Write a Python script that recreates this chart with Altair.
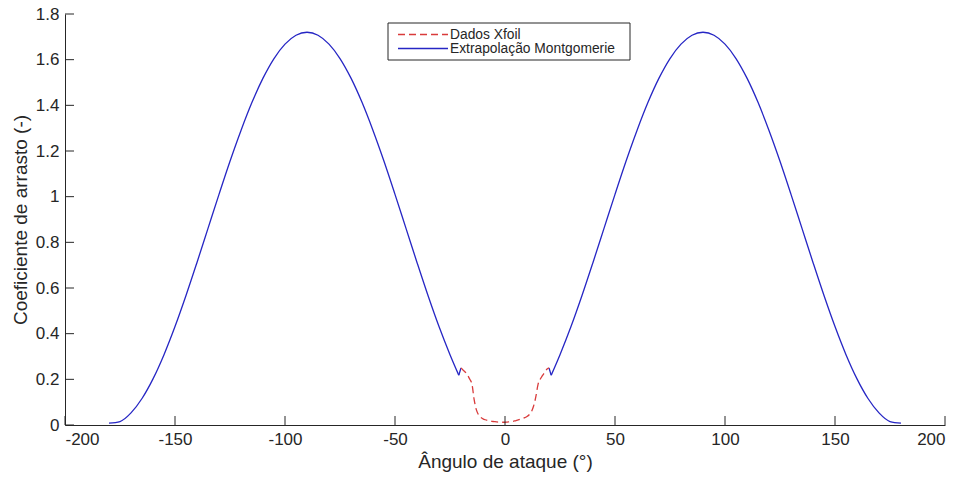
import altair as alt
import pandas as pd

# Drag coefficient vs angle of attack: XFOIL data near zero, Montgomerie extrapolation outside
xfoil_aoa = list(range(-20, 21))
xfoil_cd = [0.250, 0.240, 0.231, 0.218, 0.200, 0.178, 0.110, 0.066, 0.044, 0.033,
            0.027, 0.023, 0.020, 0.018, 0.016, 0.015, 0.014, 0.013, 0.013, 0.012,
            0.012, 0.013, 0.014, 0.015, 0.017, 0.019, 0.022, 0.025, 0.028, 0.032,
            0.037, 0.045, 0.058, 0.083, 0.123, 0.177, 0.200, 0.216, 0.230, 0.244,
            0.250]

mont_left_aoa = [-180, -175, -170, -165, -160, -155, -150, -145, -140, -135, -130,
                 -125, -120, -115, -110, -105, -100, -95, -90, -85, -80, -75, -70,
                 -65, -60, -55, -50, -45, -40, -35, -30, -25, -21, -20]
mont_left_cd = [0.008, 0.015, 0.053, 0.116, 0.202, 0.308, 0.431, 0.567, 0.712, 0.861,
                1.010, 1.155, 1.290, 1.413, 1.519, 1.605, 1.668, 1.707, 1.720, 1.707,
                1.668, 1.605, 1.519, 1.413, 1.290, 1.155, 1.010, 0.861, 0.712, 0.567,
                0.431, 0.308, 0.218, 0.250]

mont_right_aoa = [20, 21, 25, 30, 35, 40, 45, 50, 55, 60, 65, 70, 75, 80, 85, 90, 95,
                  100, 105, 110, 115, 120, 125, 130, 135, 140, 145, 150, 155, 160, 165,
                  170, 175, 180]
mont_right_cd = [0.250, 0.218, 0.308, 0.431, 0.567, 0.712, 0.861, 1.010, 1.155, 1.290,
                 1.413, 1.519, 1.605, 1.668, 1.707, 1.720, 1.707, 1.668, 1.605, 1.519,
                 1.413, 1.290, 1.155, 1.010, 0.861, 0.712, 0.567, 0.431, 0.308, 0.202,
                 0.116, 0.053, 0.015, 0.008]

x_ticks = [-200, -150, -100, -50, 0, 50, 100, 150, 200]
y_ticks = [0, 0.2, 0.4, 0.6, 0.8, 1.0, 1.2, 1.4, 1.6, 1.8]

series_names = ["Dados Xfoil", "Extrapolação Montgomerie"]
series_colors = ["#d93b3b", "#2626c4"]

W, H = 880, 411
AXIS = "#262626"
FONT = "Liberation Sans"

xfoil = pd.DataFrame({"aoa": xfoil_aoa, "cd": xfoil_cd})


def pieces(aoa, cd, tag):
    # smooth body of the curve plus the short straight jump at the XFOIL junction
    df = pd.DataFrame({"aoa": aoa, "cd": cd})
    if aoa[0] < 0:
        body, joint = df.iloc[:-1], df.iloc[-2:]
    else:
        body, joint = df.iloc[1:], df.iloc[:2]
    return pd.concat([body.assign(seg=tag + "_body"), joint.assign(seg=tag + "_joint")])


mont = pd.concat([
    pieces(mont_left_aoa, mont_left_cd, "left"),
    pieces(mont_right_aoa, mont_right_cd, "right"),
])

x_scale = alt.Scale(domain=[-200, 200], nice=False, zero=False)
y_scale = alt.Scale(domain=[0, 1.8], nice=False)

x_enc = alt.X("aoa:Q", scale=x_scale, axis=alt.Axis(
    values=x_ticks, labelExpr="'' + datum.value", title="Ângulo de ataque (°)",
    grid=False, tickSize=0, labelPadding=6, titlePadding=5))
y_enc = alt.Y("cd:Q", scale=y_scale, axis=alt.Axis(
    values=y_ticks, format="~g", title="Coeficiente de arrasto (-)",
    grid=False, tickSize=0, labelPadding=6, titlePadding=5))

mont_line = alt.Chart(mont).mark_line(
    color=series_colors[1], strokeWidth=1.3, interpolate="monotone"
).encode(x=x_enc, y=y_enc, detail="seg:N", order="aoa:Q")

xfoil_line = alt.Chart(xfoil).mark_line(
    color=series_colors[0], strokeWidth=1.3, strokeDash=[7, 4], interpolate="monotone"
).encode(x=alt.X("aoa:Q", scale=x_scale), y=alt.Y("cd:Q", scale=y_scale), order="aoa:Q")

# inward-pointing tick marks
xt = alt.Chart(pd.DataFrame({"aoa": x_ticks})).mark_rule(color=AXIS, strokeWidth=1).encode(
    x=alt.X("aoa:Q", scale=x_scale), y=alt.value(H), y2=alt.value(H - 9))
yt = alt.Chart(pd.DataFrame({"cd": y_ticks})).mark_rule(color=AXIS, strokeWidth=1).encode(
    y=alt.Y("cd:Q", scale=y_scale), x=alt.value(0), x2=alt.value(9))

# legend box
lx, ly = 323, 9
one = pd.DataFrame({"a": [0]})
legend_box = alt.Chart(one).mark_rect(
    fill="white", stroke=AXIS, strokeWidth=1
).encode(x=alt.value(lx), x2=alt.value(lx + 242), y=alt.value(ly), y2=alt.value(ly + 37))
leg_dash = alt.Chart(one).mark_rule(
    color=series_colors[0], strokeWidth=1.3, strokeDash=[7, 4]
).encode(x=alt.value(lx + 10), x2=alt.value(lx + 60), y=alt.value(ly + 11.5))
leg_solid = alt.Chart(one).mark_rule(
    color=series_colors[1], strokeWidth=1.3
).encode(x=alt.value(lx + 10), x2=alt.value(lx + 60), y=alt.value(ly + 25.5))
leg_text0 = alt.Chart(one).mark_text(
    align="left", baseline="middle", font=FONT, fontSize=13.8, color=AXIS, text=series_names[0]
).encode(x=alt.value(lx + 62), y=alt.value(ly + 11.5))
leg_text1 = alt.Chart(one).mark_text(
    align="left", baseline="middle", font=FONT, fontSize=13.8, color=AXIS, text=series_names[1]
).encode(x=alt.value(lx + 62), y=alt.value(ly + 25.5))

chart = alt.layer(
    mont_line, xfoil_line, xt, yt, legend_box, leg_dash, leg_solid, leg_text0, leg_text1
).properties(
    width=W, height=H,
    autosize=alt.AutoSizeParams(type="none"),
    padding={"left": 65, "top": 14, "right": 14, "bottom": 53},
    background="white",
).configure_view(stroke=None).configure_axis(
    domainColor=AXIS, domainWidth=1, labelColor=AXIS, titleColor=AXIS,
    labelFont=FONT, titleFont=FONT, labelFontSize=17, titleFontSize=19,
    titleFontWeight="normal",
)

chart.save("out.html", embed_options={"renderer": "svg", "actions": False})
